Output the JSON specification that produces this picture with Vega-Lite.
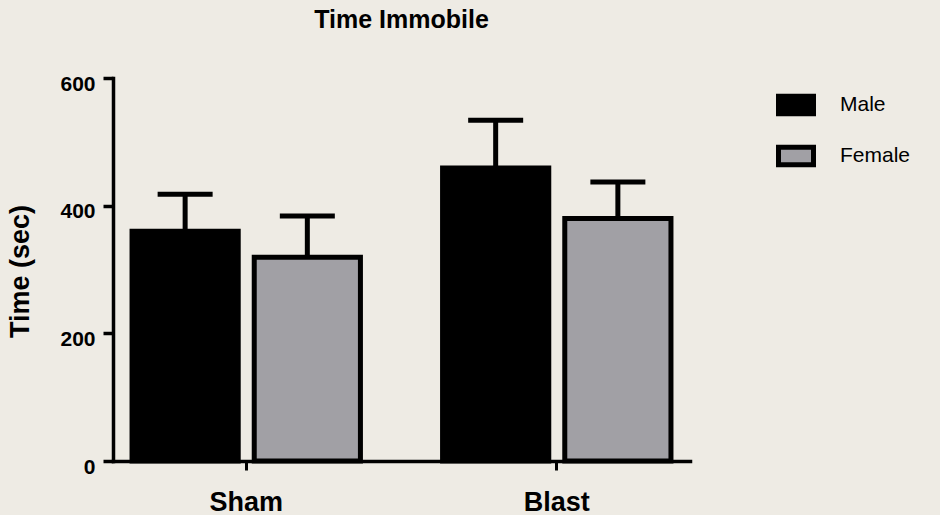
{
  "$schema": "https://vega.github.io/schema/vega-lite/v6.json",
  "width": 577,
  "height": 383,
  "autosize": {"type": "none"},
  "padding": {"left": 113, "top": 78, "right": 250, "bottom": 54},
  "background": "#eeebe4",
  "config": {"view": {"stroke": null}, "font": "Liberation Sans"},
  "title": {
    "text": "Time Immobile",
    "fontSize": 25,
    "fontWeight": "bold",
    "font": "Liberation Sans",
    "color": "#000000",
    "anchor": "middle",
    "baseline": "alphabetic",
    "offset": 20
  },
  "data": {
    "values": [
      {"group": "Sham", "sex": "Male", "mean": 360, "upper": 418},
      {"group": "Sham", "sex": "Female", "mean": 319, "upper": 384},
      {"group": "Blast", "sex": "Male", "mean": 459, "upper": 534},
      {"group": "Blast", "sex": "Female", "mean": 380, "upper": 437}
    ]
  },
  "encoding": {
    "x": {
      "field": "group",
      "type": "nominal",
      "sort": ["Sham", "Blast"],
      "scale": {"paddingInner": 0.2645, "paddingOuter": 0.0613},
      "axis": {
        "title": null,
        "labelAngle": 0,
        "domainColor": "#000000",
        "domainWidth": 3.5,
        "domainCap": "square",
        "tickColor": "#000000",
        "tickWidth": 3,
        "tickSize": 9,
        "labelFont": "Liberation Sans",
        "labelFontSize": 27,
        "labelFontWeight": "bold",
        "labelColor": "#000000",
        "labelPadding": 40,
        "labelBaseline": "alphabetic"
      }
    },
    "xOffset": {
      "field": "sex",
      "type": "nominal",
      "sort": ["Male", "Female"],
      "scale": {"paddingInner": 0.131, "paddingOuter": 0}
    }
  },
  "layer": [
    {
      "mark": {"type": "bar", "stroke": "#000000", "strokeWidth": 5, "opacity": 1},
      "encoding": {
        "y": {
          "field": "mean",
          "type": "quantitative",
          "title": "Time (sec)",
          "scale": {"domain": [0, 600], "nice": false},
          "axis": {
            "values": [0, 200, 400, 600],
            "grid": false,
            "domainColor": "#000000",
            "domainWidth": 3.5,
            "domainCap": "square",
            "tickColor": "#000000",
            "tickWidth": 3.5,
            "tickSize": 10,
            "labelFont": "Liberation Sans",
            "labelFontSize": 21,
            "labelFontWeight": "bold",
            "labelColor": "#000000",
            "labelPadding": 8,
            "labelBaseline": "alphabetic",
            "labelOffset": 12,
            "titleFont": "Liberation Sans",
            "titleFontSize": 27,
            "titleFontWeight": "bold",
            "titleColor": "#000000",
            "titleX": -85,
            "titleY": 193,
            "titleBaseline": "alphabetic",
            "titleAngle": 270,
            "titleAlign": "center"
          }
        },
        "fill": {
          "field": "sex",
          "type": "nominal",
          "scale": {"domain": ["Male", "Female"], "range": ["#000000", "#a1a0a5"]},
          "legend": {
            "title": null,
            "orient": "none",
            "legendX": 663,
            "legendY": 7,
            "symbolType": "M-1,-0.5H1V0.5H-1Z",
            "symbolSize": 1225,
            "symbolStrokeColor": "#000000",
            "symbolStrokeWidth": 5,
            "symbolOpacity": 1,
            "labelFont": "Liberation Sans",
            "labelFontSize": 21,
            "labelColor": "#000000",
            "labelOffset": 24,
            "rowPadding": 12,
            "padding": 0
          }
        }
      }
    },
    {
      "mark": {"type": "rule", "strokeWidth": 5, "color": "#000000", "opacity": 1},
      "encoding": {
        "y": {"field": "mean", "type": "quantitative", "title": "Time (sec)"},
        "y2": {"field": "upper"}
      }
    },
    {
      "mark": {"type": "tick", "orient": "horizontal", "size": 55, "thickness": 5, "color": "#000000", "opacity": 1},
      "encoding": {
        "y": {"field": "upper", "type": "quantitative", "title": "Time (sec)"}
      }
    }
  ]
}
